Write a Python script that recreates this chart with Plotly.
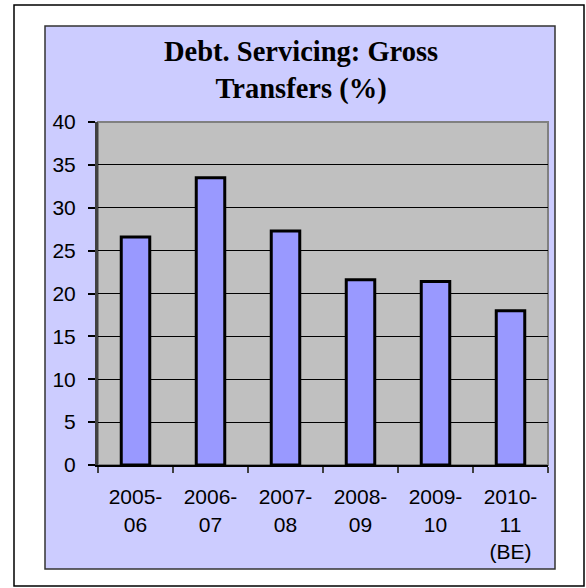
import plotly.graph_objects as go

categories = ["2005-<br>06", "2006-<br>07", "2007-<br>08", "2008-<br>09", "2009-<br>10", "2010-<br>11<br>(BE)"]
values = [26.6, 33.5, 27.3, 21.6, 21.4, 18.0]
y_ticks = [0, 5, 10, 15, 20, 25, 30, 35, 40]
title_text = "Debt. Servicing: Gross<br>Transfers (%)"

W, H = 586, 588
L, R, T, B = 98, 548, 122, 465  # plot area in pixels
pw, ph = R - L, B - T


def px(x):
    return (x - L) / pw


def py(y):
    return (B - y) / ph


fig = go.Figure()
fig.add_trace(go.Bar(
    x=categories, y=values, width=0.38,
    marker=dict(color="#9999FF", line=dict(color="black", width=3)),
    hoverinfo="skip",
))

shapes = [
    dict(type="rect", xref="paper", yref="paper", x0=px(14), x1=px(584), y0=py(586), y1=py(5),
         line=dict(color="black", width=1.5), fillcolor="white", layer="below"),
    dict(type="rect", xref="paper", yref="paper", x0=px(45), x1=px(555), y0=py(569), y1=py(26),
         line=dict(color="#333333", width=1.5), fillcolor="#CCCCFF", layer="below"),
    dict(type="rect", xref="paper", yref="paper", x0=0, x1=1, y0=0, y1=1,
         line=dict(color="#808080", width=2), fillcolor="#C0C0C0", layer="below"),
]

fig.update_layout(
    width=W, height=H,
    margin=dict(l=L, r=W - R, t=T, b=H - B, pad=0),
    paper_bgcolor="white",
    plot_bgcolor="rgba(0,0,0,0)",
    showlegend=False,
    shapes=shapes,
    font=dict(family="Liberation Sans, Arial", size=21, color="black"),
    annotations=[dict(
        text=title_text, xref="paper", yref="paper", x=px(301), y=py(70),
        xanchor="center", yanchor="middle", showarrow=False,
        font=dict(family="Liberation Serif, Times New Roman", size=28.5, color="black", weight="bold"),
    )],
)

fig.update_yaxes(
    range=[0, 40], tickvals=y_ticks, ticktext=[str(v) for v in y_ticks],
    showgrid=True, gridcolor="black", gridwidth=1,
    ticks="outside", ticklen=7, tickcolor="black", tickwidth=1.5,
    ticklabelstandoff=8,
    showline=True, linecolor="#404040", linewidth=3,
    zeroline=False, fixedrange=True,
)
fig.update_xaxes(
    type="category", tickson="boundaries",
    ticks="outside", ticklen=6, tickcolor="#404040", tickwidth=1.5,
    ticklabelstandoff=12,
    showline=True, linecolor="black", linewidth=2,
    showgrid=False, fixedrange=True,
)

fig.write_html(
    "out.html",
    config={"displayModeBar": False},
    post_script="document.body.style.margin='0px';document.body.style.overflow='hidden';",
)
